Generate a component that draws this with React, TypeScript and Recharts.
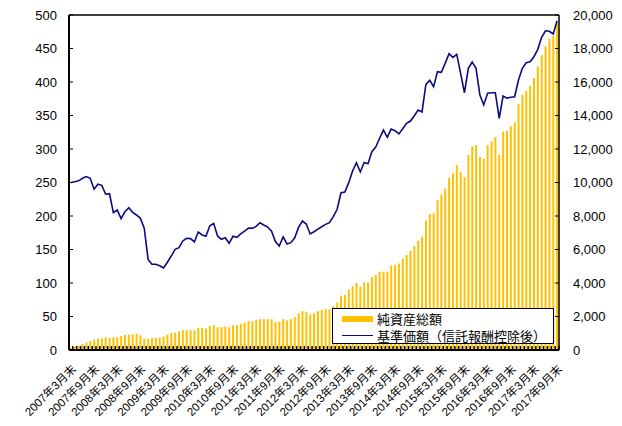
import React from 'react';
import { ComposedChart, Bar, Line, XAxis, YAxis, ReferenceLine, Legend } from 'recharts';

// 2007年3月末 から 2017年9月末 までの月次データ
const START_YEAR = 2007;
const START_MONTH = 3;

// 純資産総額 (億円, 左軸)
const netAssets = [
  3.5, 5, 6.5, 9, 11, 13.5, 15.5, 17, 17.5, 19,
  18, 19, 19, 21, 22.5, 23, 23.5, 24, 22, 17,
  17, 18, 18, 18.5, 20, 22.5, 25, 26, 28, 29.5,
  29.5, 29.5, 29.5, 33, 33, 32, 36, 37, 34, 34,
  35, 34, 37, 37, 39, 41, 43, 43, 45, 46,
  46, 46, 46, 42, 42, 46, 44, 46, 49, 55,
  58, 57, 53, 55, 58, 60, 61, 61, 65, 71,
  81, 82, 90, 95, 100, 94, 101, 101, 109, 112,
  117, 117, 117, 126, 127, 129, 136, 142, 148, 155,
  163, 169, 193, 203, 204, 224, 232, 241, 257, 264,
  276, 266, 258, 291, 304, 306, 288, 285, 306, 311,
  318, 291, 326, 327, 334, 340, 367, 381, 387, 394,
  406, 423, 440, 453, 464, 469, 488,
];

// 基準価額 (円, 右軸)
const navValues = [
  10000, 10050, 10100, 10250, 10350, 10250, 9600, 9900, 9830, 9300,
  9330, 8200, 8360, 7840, 8260, 8500, 8220, 8060, 7860, 7270,
  5410, 5120, 5120, 5030, 4900, 5240, 5610, 6010, 6110, 6510,
  6670, 6650, 6450, 7040, 6870, 6790, 7420, 7560, 6810, 6610,
  6700, 6370, 6790, 6730, 6930, 7100, 7280, 7260, 7380, 7600,
  7460, 7340, 7090, 6470, 6210, 6760, 6330, 6410, 6700, 7320,
  7700, 7520, 6930, 7060, 7220, 7360, 7500, 7600, 7960, 8400,
  9390, 9430, 9990, 10690, 11180, 10630, 11200, 11120, 11840, 12120,
  12640, 13130, 12700, 13190, 13090, 12900, 13210, 13530, 13670, 13990,
  14330, 14210, 15860, 16100, 15720, 16620, 16580, 17110, 17690, 17470,
  17650, 16520, 15360, 16820, 17190, 16820, 15220, 14630, 15330, 15360,
  15360, 13830, 15160, 15030, 15090, 15120, 16120, 16820, 17150, 17210,
  17510, 17950, 18670, 19060, 19030, 18870, 19660,
];

const leftTicks = [0, 50, 100, 150, 200, 250, 300, 350, 400, 450, 500];
const rightTicks = [0, 2000, 4000, 6000, 8000, 10000, 12000, 14000, 16000, 18000, 20000];

const months = navValues.map((_, i) => {
  const t = START_MONTH - 1 + i;
  return `${START_YEAR + Math.floor(t / 12)}年${(t % 12) + 1}月末`;
});

const data = months.map((month, i) => ({ month, assets: netAssets[i], nav: navValues[i] }));

const FONT = '"Liberation Sans", Arial, "Noto Sans CJK JP", sans-serif';
const BAR_COLOR = '#FFC000';
const LINE_COLOR = '#0B0B7E';
const PLOT_W = 490;
const BAND = PLOT_W / data.length;

const XTick = ({ x, y, payload, index }: any) => {
  const i = payload && payload.index !== undefined ? payload.index : index;
  const lx = x + 3;
  const ly = y + 17;
  return (
    <g>
      <line x1={x + BAND / 2} x2={x + BAND / 2} y1={y} y2={y - 4} stroke="#000" strokeWidth={1.5} />
      {i % 6 === 0 && (
        <text
          x={lx}
          y={ly}
          dy="0.35em"
          textAnchor="end"
          fontSize={11.5}
          fill="#000"
          fontFamily={FONT}
          transform={`rotate(-45 ${lx} ${ly})`}
        >
          {payload.value}
        </text>
      )}
    </g>
  );
};

const LegendBox = () => (
  <div
    style={{
      width: 222,
      height: 36,
      boxSizing: 'border-box',
      border: '1.5px solid #000',
      background: '#fff',
      fontFamily: FONT,
      fontSize: 13,
      color: '#000',
      paddingLeft: 9,
    }}
  >
    <div style={{ height: 17, display: 'flex', alignItems: 'center', marginTop: 1 }}>
      <span style={{ display: 'inline-block', width: 31, height: 6, background: BAR_COLOR, marginRight: 4 }} />
      純資産総額
    </div>
    <div style={{ height: 17, display: 'flex', alignItems: 'center' }}>
      <span style={{ display: 'inline-block', width: 31, height: 0, borderTop: `1.5px solid ${LINE_COLOR}`, marginRight: 4 }} />
      基準価額（信託報酬控除後）
    </div>
  </div>
);

export default function App() {
  return (
    <div style={{ width: 614, height: 412 }}>
      <ComposedChart width={614} height={412} data={data} margin={{ top: 7, right: 0, bottom: 0, left: 0 }}>
        <Bar
          yAxisId="left"
          dataKey="assets"
          name="純資産総額"
          fill={BAR_COLOR}
          barSize={2}
          isAnimationActive={false}
        />
        <Line
          yAxisId="right"
          dataKey="nav"
          name="基準価額（信託報酬控除後）"
          stroke={LINE_COLOR}
          strokeWidth={1.6}
          dot={false}
          activeDot={false}
          isAnimationActive={false}
        />
        <ReferenceLine yAxisId="left" y={500} stroke="#000" strokeWidth={1.5} />
        <XAxis
          dataKey="month"
          interval={0}
          height={70}
          tickSize={0}
          tickMargin={0}
          tick={<XTick />}
          axisLine={{ stroke: '#000', strokeWidth: 2 }}
          tickLine={false}
        />
        <YAxis
          yAxisId="left"
          width={61}
          domain={[0, 500]}
          ticks={leftTicks}
          interval={0}
          tickSize={-4}
          tickMargin={16}
          axisLine={{ stroke: '#000', strokeWidth: 2 }}
          tickLine={{ stroke: '#000' }}
          tick={{ fill: '#000', fontSize: 13, fontFamily: FONT }}
        />
        <YAxis
          yAxisId="right"
          orientation="right"
          width={63}
          domain={[0, 20000]}
          ticks={rightTicks}
          interval={0}
          tickSize={-4}
          tickMargin={18}
          tickFormatter={(v: number) => v.toLocaleString('en-US')}
          axisLine={{ stroke: '#000', strokeWidth: 1.5 }}
          tickLine={{ stroke: '#000' }}
          tick={{ fill: '#000', fontSize: 13, fontFamily: FONT }}
        />
        <Legend
          layout="vertical"
          align="center"
          verticalAlign="middle"
          content={<LegendBox />}
          wrapperStyle={{ left: 324, top: 300, width: 222, height: 36 }}
        />
      </ComposedChart>
    </div>
  );
}
